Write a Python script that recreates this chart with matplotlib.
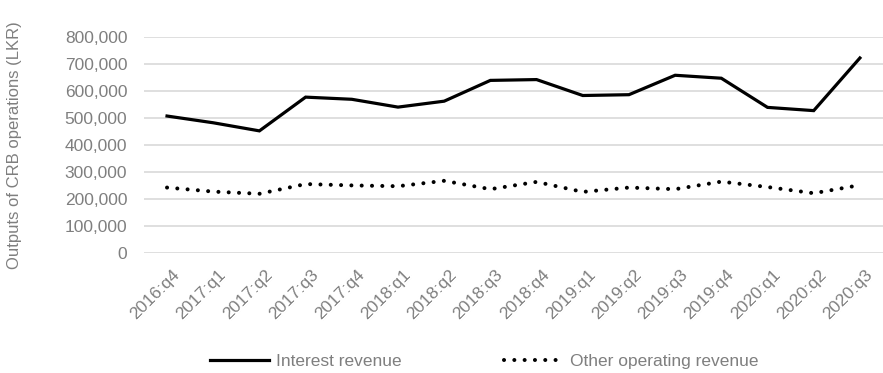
import numpy as np
import matplotlib.pyplot as plt
from matplotlib.ticker import FuncFormatter, MultipleLocator
from matplotlib.transforms import ScaledTranslation

# quarterly outputs, LKR
quarters = [
    "2016:q4", "2017:q1", "2017:q2", "2017:q3", "2017:q4",
    "2018:q1", "2018:q2", "2018:q3", "2018:q4",
    "2019:q1", "2019:q2", "2019:q3", "2019:q4",
    "2020:q1", "2020:q2", "2020:q3",
]
interest_revenue = [
    507000, 482000, 452000, 577000, 569000,
    540000, 562000, 639000, 642000,
    583000, 586000, 658000, 647000,
    539000, 527000, 722000,
]
other_operating_revenue = [
    242000, 227000, 219000, 255000, 250000,
    247000, 267000, 236000, 263000,
    226000, 242000, 236000, 264000,
    244000, 221000, 251000,
]

plt.rcParams["font.family"] = ["Liberation Sans", "DejaVu Sans"]
GREY = "#7f7f7f"

fig = plt.figure(figsize=(8.83, 3.73), dpi=100)
ax = fig.add_axes([0.163, 0.322, 0.837, 0.579])

x = np.arange(len(quarters))
ax.plot(x, interest_revenue, color="black", lw=2.3,
        solid_joinstyle="miter", label="Interest revenue")
ax.plot(x, other_operating_revenue, color="black", lw=2.9,
        linestyle=(0, (0.01, 2.55)), dash_capstyle="round",
        label="Other operating revenue")

ax.set_xlim(-0.5, len(quarters) - 0.5)
ax.set_ylim(0, 800000)
ax.yaxis.set_major_locator(MultipleLocator(100000))
ax.yaxis.set_major_formatter(FuncFormatter(lambda v, p: f"{int(v):,}"))
ax.grid(axis="y", color="#d9d9d9", lw=1.2)
ax.set_axisbelow(True)
for s in ax.spines.values():
    s.set_visible(False)

ax.set_xticks(x)
ax.set_xticklabels(quarters, rotation=45, ha="right", rotation_mode="anchor")
ax.tick_params(axis="both", length=0, labelsize=12.5, colors=GREY)
ax.tick_params(axis="x", pad=6)
ax.tick_params(axis="y", pad=12)

# nudge rotated quarter labels so their ends sit right of the tick
shift = ScaledTranslation(0.05, -0.06, fig.dpi_scale_trans)
for lbl in ax.get_xticklabels():
    lbl.set_transform(lbl.get_transform() + shift)

fig.text(0.016, 0.61, "Outputs of CRB operations (LKR)", rotation=90,
         ha="center", va="center", fontsize=12, color=GREY)

leg = fig.legend(loc="center", bbox_to_anchor=(0.548, 0.03), ncol=2,
                 frameon=False, fontsize=12.5, handlelength=3.4,
                 columnspacing=5.9, handletextpad=0.4)
for t in leg.get_texts():
    t.set_color(GREY)

fig.savefig("out.png", dpi=100)
